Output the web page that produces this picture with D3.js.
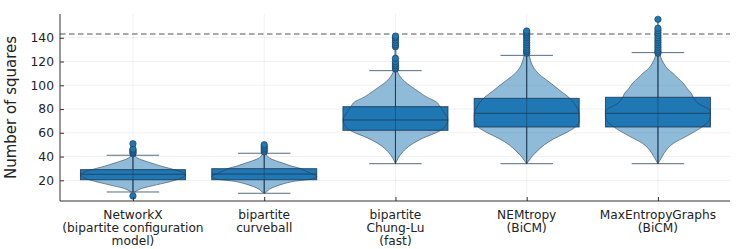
<!DOCTYPE html>
<html>
<head>
<meta charset="utf-8">
<script src="https://cdn.jsdelivr.net/npm/d3@7"></script>
<style>
  body { margin: 0; background: #fff; }
  svg { display: block; font-family: "DejaVu Sans", sans-serif; }
</style>
</head>
<body>
<div class="chart"></div>
<script>
// categories (one entry per line of the tick label)
var categories = [
  ["NetworkX", "(bipartite configuration", "model)"],
  ["bipartite", "curveball"],
  ["bipartite", "Chung-Lu", "(fast)"],
  ["NEMtropy", "(BiCM)"],
  ["MaxEntropyGraphs", "(BiCM)"]
];

// box plot stats
var q1       = [20.5, 20.5, 62.1, 64.9, 64.9];
var medians  = [25.1, 25.3, 70.8, 76.4, 76.4];
var q3       = [29.0, 29.8, 82.0, 89.0, 89.9];
var whiskLo  = [10.2, 9.1, 34.0, 34.0, 34.0];
var whiskHi  = [41.1, 42.8, 112.3, 125.2, 127.5];
var outliers = [
  [6.8, 42.4, 43.5, 44.5, 45.5, 46.4, 50.8],
  [44, 45.5, 47, 48.5, 50],
  [113.7, 115, 116.5, 118, 120, 122.7, 132.5, 134, 136, 138, 140, 141.4],
  [127, 128.5, 130, 132, 134, 136, 138, 140, 141.5, 143, 144.5, 145.7],
  [127, 128.5, 130, 132, 134, 136, 138, 140, 142, 144, 146, 148, 155.5]
];

// violin outlines: value level and relative width
var violinLevels = [
  [6.8, 9, 10.5, 13.3, 16, 20, 22.5, 25, 27, 29.3, 31, 33, 35.7, 38, 40.7, 44, 48, 50.8],
  [9.1, 10.5, 12.5, 14.6, 17, 19, 21.5, 23.5, 26, 28, 30, 32, 34.3, 36.5, 38.5, 41, 43, 46, 50],
  [34, 38.5, 44, 50, 55, 62, 66, 71, 76, 82, 86, 90, 95, 99, 103, 108, 113, 120, 130, 141.4],
  [34, 37, 40, 45, 50, 55, 60, 65, 70, 75, 80, 85, 90, 95, 100, 105, 110, 115, 120, 125, 130, 140, 145.7],
  [34, 37, 40, 45.5, 51, 57, 64.6, 70, 75, 78, 85, 90, 93, 97, 102, 106, 110, 114, 118.5, 123, 127, 135, 145, 155.5]
];
var violinWidths = [
  [0, 0.02, 0.05, 0.18, 0.43, 0.8, 0.95, 1.0, 0.92, 0.76, 0.62, 0.46, 0.27, 0.12, 0.04, 0.02, 0.01, 0],
  [0, 0.05, 0.1, 0.2, 0.36, 0.55, 0.95, 1.0, 0.88, 0.78, 0.69, 0.52, 0.37, 0.22, 0.11, 0.05, 0.03, 0.015, 0],
  [0, 0.05, 0.14, 0.3, 0.5, 0.86, 0.96, 1.0, 0.94, 0.85, 0.78, 0.6, 0.43, 0.3, 0.18, 0.08, 0.03, 0.015, 0.01, 0],
  [0, 0.05, 0.1, 0.21, 0.34, 0.52, 0.75, 0.93, 1.0, 1.0, 0.97, 0.9, 0.8, 0.65, 0.51, 0.36, 0.22, 0.13, 0.08, 0.05, 0.03, 0.015, 0],
  [0, 0.04, 0.08, 0.16, 0.29, 0.54, 0.83, 0.97, 1.0, 1.0, 0.76, 0.67, 0.64, 0.56, 0.48, 0.38, 0.29, 0.18, 0.11, 0.06, 0.03, 0.015, 0.008, 0]
];

var yTicks = [20, 40, 60, 80, 100, 120, 140];
var referenceValue = 143.2; // dashed line
var yLabel = "Number of squares";

var W = 747, H = 249;
var margin = {left: 60, right: 17, top: 14, bottom: 48};

var svg = d3.select("div.chart")
            .append("svg")
            .attr("width", W)
            .attr("height", H);

var x = d3.scaleLinear()
          .domain([0.444, 5.549])
          .range([margin.left, W - margin.right]);

var y = d3.scaleLinear()
          .domain([2.6, 160])
          .range([H - margin.bottom, margin.top]);

var blue = "#1f77b4";
var dark = "#1d3b56";
var halfW = 0.4;   // box & violin half width in category units
var capW = 0.2;

//grid
svg.append("g")
   .selectAll("line.hgrid")
   .data(yTicks)
   .enter()
   .append("line")
   .attr("x1", x.range()[0]).attr("x2", x.range()[1])
   .attr("y1", d => y(d)).attr("y2", d => y(d))
   .attr("stroke", "#000").attr("stroke-opacity", 0.08).attr("stroke-width", 0.8);

svg.append("g")
   .selectAll("line.vgrid")
   .data(categories)
   .enter()
   .append("line")
   .attr("x1", (d, i) => x(i + 1)).attr("x2", (d, i) => x(i + 1))
   .attr("y1", y.range()[0]).attr("y2", y.range()[1])
   .attr("stroke", "#000").attr("stroke-opacity", 0.08).attr("stroke-width", 0.8);

//reference line
svg.append("line")
   .attr("x1", x.range()[0]).attr("x2", x.range()[1])
   .attr("y1", y(referenceValue)).attr("y2", y(referenceValue))
   .attr("stroke", "#555").attr("stroke-width", 1.1)
   .attr("stroke-dasharray", "5.5,3.5");

var unit = x(1) - x(0);

var area = function(i) {
  return d3.area()
    .curve(d3.curveMonotoneY)
    .y(d => y(d[0]))
    .x0(d => x(i + 1) - d[1] * halfW * unit)
    .x1(d => x(i + 1) + d[1] * halfW * unit);
};

var groups = svg.selectAll("g.cat")
   .data(categories)
   .enter()
   .append("g")
   .attr("class", "cat");

//violin fill
groups.append("path")
   .attr("d", (d, i) => area(i)(violinLevels[i].map((v, j) => [v, violinWidths[i][j]])))
   .attr("fill", blue).attr("fill-opacity", 0.5)
   .attr("stroke", "none");

//vertical whisker line
groups.append("line")
   .attr("x1", (d, i) => x(i + 1)).attr("x2", (d, i) => x(i + 1))
   .attr("y1", (d, i) => y(whiskLo[i])).attr("y2", (d, i) => y(whiskHi[i]))
   .attr("stroke", dark).attr("stroke-width", 1);

//box
groups.append("rect")
   .attr("x", (d, i) => x(i + 1 - halfW))
   .attr("width", 2 * halfW * unit)
   .attr("y", (d, i) => y(q3[i]))
   .attr("height", (d, i) => y(q1[i]) - y(q3[i]))
   .attr("fill", blue)
   .attr("stroke", dark).attr("stroke-width", 1).attr("stroke-opacity", 0.85);

//median
groups.append("line")
   .attr("x1", (d, i) => x(i + 1 - halfW)).attr("x2", (d, i) => x(i + 1 + halfW))
   .attr("y1", (d, i) => y(medians[i])).attr("y2", (d, i) => y(medians[i]))
   .attr("stroke", dark).attr("stroke-width", 1).attr("stroke-opacity", 0.8);

//violin outline on top
groups.append("path")
   .attr("d", (d, i) => area(i)(violinLevels[i].map((v, j) => [v, violinWidths[i][j]])))
   .attr("fill", "none")
   .attr("stroke", dark).attr("stroke-opacity", 0.55).attr("stroke-width", 1);

//vertical line over violin
groups.append("line")
   .attr("x1", (d, i) => x(i + 1)).attr("x2", (d, i) => x(i + 1))
   .attr("y1", (d, i) => y(whiskLo[i])).attr("y2", (d, i) => y(whiskHi[i]))
   .attr("stroke", dark).attr("stroke-width", 1).attr("stroke-opacity", 0.5);

//caps
[whiskLo, whiskHi].forEach(function(arr) {
  groups.append("line")
     .attr("x1", (d, i) => x(i + 1 - capW)).attr("x2", (d, i) => x(i + 1 + capW))
     .attr("y1", (d, i) => y(arr[i])).attr("y2", (d, i) => y(arr[i]))
     .attr("stroke", dark).attr("stroke-width", 1).attr("stroke-opacity", 0.75);
});

//outliers
groups.each(function(d, i) {
  d3.select(this).selectAll("circle")
    .data(outliers[i])
    .enter()
    .append("circle")
    .attr("cx", x(i + 1))
    .attr("cy", v => y(v))
    .attr("r", 3.2)
    .attr("fill", blue)
    .attr("stroke", dark).attr("stroke-width", 0.8).attr("stroke-opacity", 0.8);
});

//axes
var yAxis = svg.append("g")
   .attr("transform", "translate(" + margin.left + ",0)")
   .call(d3.axisLeft(y).tickValues(yTicks).tickSize(-4).tickPadding(6));
yAxis.select(".domain").attr("stroke", "#333").attr("stroke-width", 1)
   .attr("d", "M0," + y.range()[0] + "V" + y.range()[1]);
yAxis.selectAll(".tick line").attr("stroke", "#333");
yAxis.selectAll("text").attr("font-size", 12.3).attr("fill", "#222")
   .attr("font-family", "DejaVu Sans");

var xAxis = svg.append("g")
   .attr("transform", "translate(0," + y.range()[0] + ")")
   .call(d3.axisBottom(x).tickValues([1, 2, 3, 4, 5]).tickSize(-4).tickFormat(""));
xAxis.select(".domain").attr("stroke", "#333").attr("stroke-width", 1)
   .attr("d", "M" + x.range()[0] + ",0H" + x.range()[1]);
xAxis.selectAll(".tick line").attr("stroke", "#333");

//category labels
groups.append("text")
   .attr("text-anchor", "middle")
   .attr("font-size", 12.2)
   .attr("fill", "#222")
   .attr("transform", (d, i) => "translate(" + x(i + 1) + "," + (y.range()[0] + 18) + ")")
   .selectAll("tspan")
   .data(d => d)
   .enter()
   .append("tspan")
   .attr("x", 0)
   .attr("y", (d, j) => j * 12.8)
   .text(d => d);

svg.append("text")
   .attr("transform", "translate(16," + ((y.range()[0] + y.range()[1]) / 2) + ") rotate(-90)")
   .attr("text-anchor", "middle")
   .attr("font-size", 15)
   .attr("fill", "#222")
   .text(yLabel);
</script>
</body>
</html>
